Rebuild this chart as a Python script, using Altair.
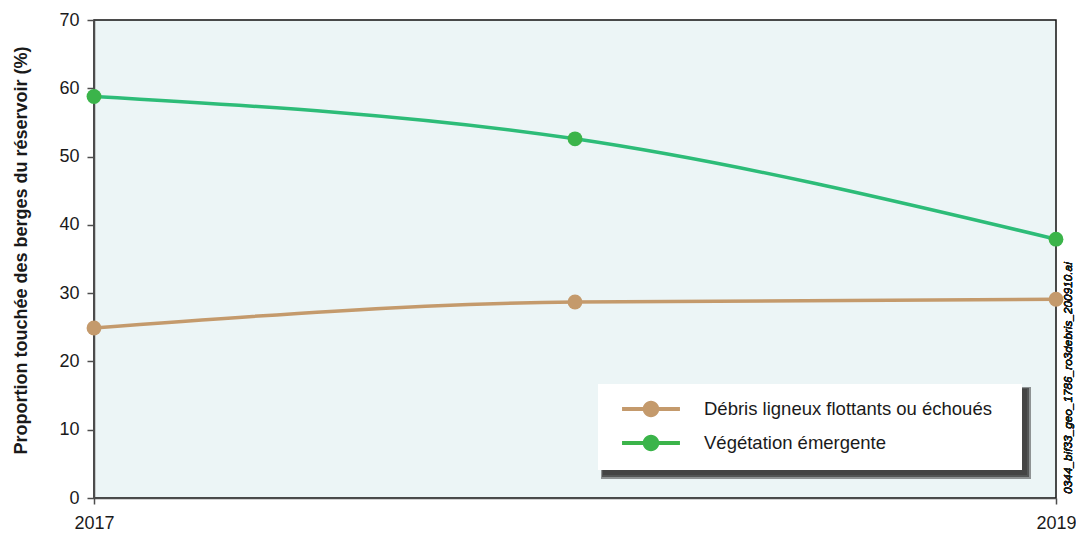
import altair as alt
import pandas as pd

# ---- data ----
years = [2017, 2018, 2019]
debris = [24.9, 28.7, 29.1]
vegetation = [58.8, 52.6, 37.9]
series_names = ["Débris ligneux flottants ou échoués", "Végétation émergente"]
line_colors = ["#c49a6c", "#2dbc78"]
point_colors = ["#c49a6c", "#3bb44a"]
y_ticks = [0, 10, 20, 30, 40, 50, 60, 70]
y_title = "Proportion touchée des berges du réservoir (%)"
file_tag = "0344_bif33_geo_1786_ro3debris_200910.ai"

df = pd.DataFrame({
    "annee": years + years,
    "valeur": debris + vegetation,
    "serie": [series_names[0]] * len(years) + [series_names[1]] * len(years),
})

FONT = "Liberation Sans"
W, H = 962, 478

x = alt.X("annee:Q",
          scale=alt.Scale(domain=[years[0], years[-1]], nice=False, zero=False),
          axis=alt.Axis(values=years, format="d", title=None, grid=False,
                        labelFlush=False, labelFontSize=18, labelColor="#1a1a1a",
                        labelFont=FONT, tickSize=6, tickColor="#4d4d4d",
                        domainColor="#4d4d4d", domainWidth=1.5, tickWidth=1.5,
                        labelPadding=10))
y = alt.Y("valeur:Q",
          scale=alt.Scale(domain=[0, 70], nice=False),
          axis=alt.Axis(values=y_ticks, title=y_title, grid=False,
                        labelFontSize=18, labelColor="#1a1a1a", labelFont=FONT,
                        tickSize=7, tickColor="#4d4d4d", tickWidth=1.5,
                        domainColor="#4d4d4d", domainWidth=1.5, labelPadding=8,
                        titleFont=FONT, titleFontSize=18, titleFontWeight="bold",
                        titleColor="#1a1a1a", titlePadding=28, titleY=230))

# legend symbol: a short line with a dot in the middle (unit scale = 15 px)
legend_symbol = ("M-1.93,-0.13H1.93V0.13H-1.93Z "
                 "M0.55,0A0.55,0.55 0 1,1 -0.55,0A0.55,0.55 0 1,1 0.55,0Z")

base = alt.Chart(df)

lines = base.mark_line(strokeWidth=3.5, interpolate="monotone").encode(
    x=x, y=y,
    color=alt.Color("serie:N",
                    scale=alt.Scale(domain=series_names, range=line_colors),
                    legend=None),
)

points = base.mark_point(filled=True, size=220, opacity=1, shape="circle").encode(
    x=x, y=y,
    fill=alt.Fill("serie:N",
                  scale=alt.Scale(domain=series_names, range=point_colors),
                  legend=alt.Legend(title=None, orient="none", legendX=542, legendY=374,
                                    padding=0, rowPadding=9,
                                    symbolType=legend_symbol, symbolSize=900,
                                    symbolStrokeWidth=0, symbolOpacity=1,
                                    labelFont=FONT, labelFontSize=18.5, labelLimit=0,
                                    labelColor="#1a1a1a", labelOffset=38)),
)

# legend box with its soft drop shadow (decoration)
shadow1 = alt.Chart(df).mark_rect(color="#444444", opacity=0.12).encode(
    x=alt.value(504 + 3), x2=alt.value(928 + 9),
    y=alt.value(364 + 3), y2=alt.value(450 + 9),
)
shadow2 = alt.Chart(df).mark_rect(color="#444444", opacity=0.22).encode(
    x=alt.value(504 + 4), x2=alt.value(928 + 7),
    y=alt.value(364 + 4), y2=alt.value(450 + 7),
)
shadow3 = alt.Chart(df).mark_rect(color="#444444", opacity=0.32).encode(
    x=alt.value(504 + 5), x2=alt.value(928 + 5),
    y=alt.value(364 + 5), y2=alt.value(450 + 5),
)
box = alt.Chart(df).mark_rect(color="white", opacity=1).encode(
    x=alt.value(504), x2=alt.value(928),
    y=alt.value(364), y2=alt.value(450),
)

tag = alt.Chart(df).mark_text(angle=270, fontStyle="italic", font=FONT, fontSize=11.8,
                              color="#1a1a1a").encode(
    x=alt.value(974), y=alt.value(358), text=alt.value(file_tag),
)

chart = alt.layer(lines, points, shadow1, shadow2, shadow3, box, tag).resolve_scale(
    color="independent", fill="independent"
).properties(
    width=W, height=H,
    autosize=alt.AutoSizeParams(type="none"),
    padding={"left": 86, "top": 12, "right": 20, "bottom": 35},
).configure_view(
    fill="#ecf5f6", stroke="#111111", strokeWidth=1.5
)

chart.save("out.html", embed_options={"renderer": "svg", "actions": False})
